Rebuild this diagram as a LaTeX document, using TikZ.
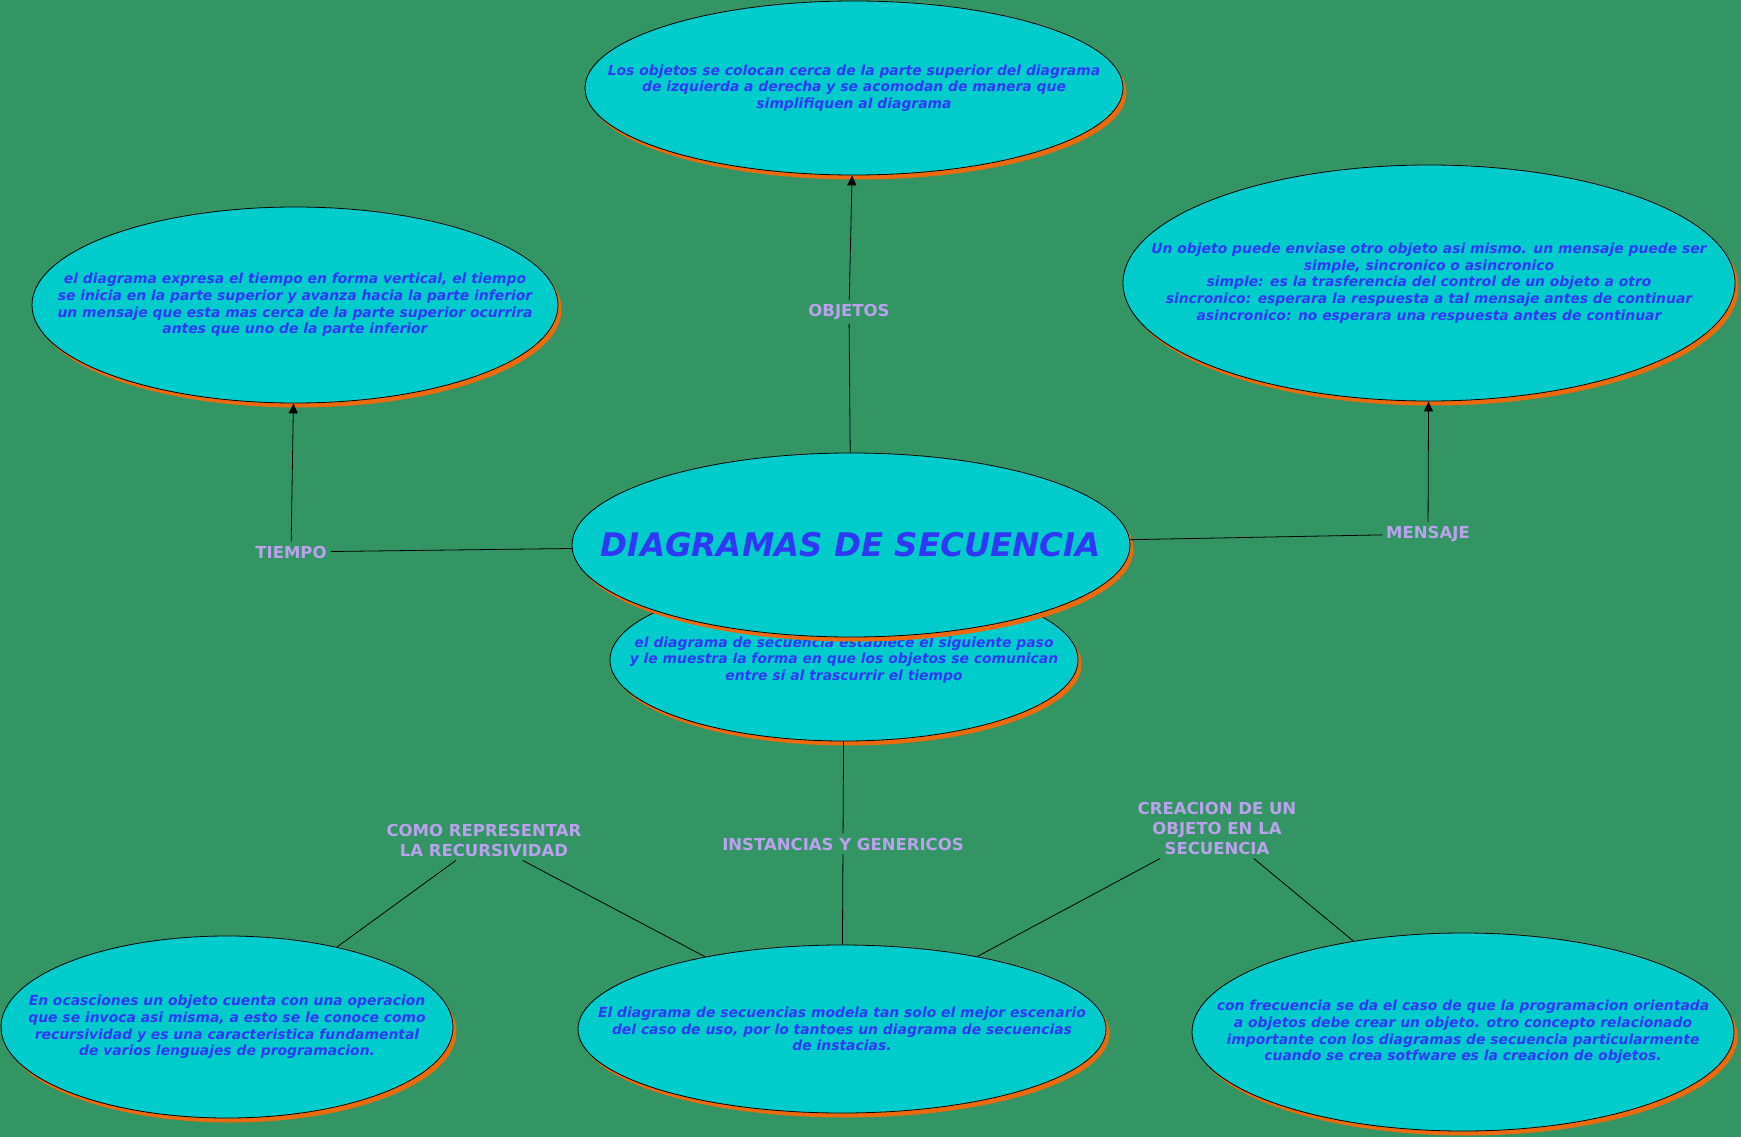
\documentclass[tikz,border=0pt]{standalone}
\usepackage{fontspec}
\setmainfont{DejaVu Sans}[BoldFont={DejaVu Sans Bold},ItalicFont={DejaVu Sans Oblique},BoldItalicFont={DejaVu Sans Bold Oblique}]
\usetikzlibrary{shapes.geometric,shadows,arrows.meta}

\definecolor{bggreen}{RGB}{51,149,99}
\definecolor{bubfill}{RGB}{0,204,204}
\definecolor{bubshadow}{RGB}{236,106,14}
\definecolor{textblue}{RGB}{48,56,245}
\definecolor{lblpurple}{RGB}{186,162,238}

\newcommand{\bodyfont}{\bfseries\itshape\fontsize{13.9}{16.7}\selectfont}
\newcommand{\titlefont}{\bfseries\itshape\fontsize{32.5}{39}\selectfont}
\newcommand{\lblfont}{\bfseries\fontsize{16.5}{20}\selectfont}

\tikzset{
  bubble/.style={ellipse, draw=black, line width=0.8pt, fill=bubfill,
    drop shadow={shadow xshift=3.5pt, shadow yshift=-4.5pt, fill=bubshadow, opacity=1}},
  bubtext/.style={text=textblue, align=center, font=\bodyfont, inner sep=0pt},
  lbl/.style={text=lblpurple, align=center, font=\lblfont, inner sep=4pt},
  link/.style={draw=black, line width=0.8pt},
  arrowlink/.style={link, -{Triangle[length=10pt,width=9pt]}}
}

\begin{document}
\begin{tikzpicture}[x=1pt, y=-1pt]
  \useasboundingbox (0,0) rectangle (1741,1137);
  \fill[bggreen] (0,0) rectangle (1741,1137);

  % upper bubbles
  \node[bubble, minimum width=538pt, minimum height=174pt] (obj) at (854,88) {};
  \node[bubtext] (obj-t) at (obj) {Los objetos se colocan cerca de la parte superior del diagrama\\ de izquierda a derecha y se acomodan de manera que\\ simplifiquen al diagrama};
  \node[bubble, minimum width=526pt, minimum height=196pt] (tiempo) at (295,305) {};
  \node[bubtext] (tiempo-t) at (tiempo) {el diagrama expresa el tiempo en forma vertical, el tiempo\\ se inicia en la parte superior y avanza hacia la parte inferior\\ un mensaje que esta mas cerca de la parte superior ocurrira\\ antes que uno de la parte inferior};
  \node[bubble, minimum width=612pt, minimum height=236pt] (mensaje) at (1429,283) {};
  \node[bubtext] (mensaje-t) at (mensaje) {Un objeto puede enviase otro objeto asi mismo. un mensaje puede ser\\ simple, sincronico o asincronico\\ simple: es la trasferencia del control de un objeto a otro\\ sincronico: esperara la respuesta a tal mensaje antes de continuar\\ asincronico: no esperara una respuesta antes de continuar};

  % central bubbles
  \node[bubble, minimum width=468pt, minimum height=162pt] (desc) at (844,660) {};
  \node[bubtext] (desc-t) at (desc) {el diagrama de secuencia establece el siguiente paso\\ y le muestra la forma en que los objetos se comunican\\ entre si al trascurrir el tiempo};
  \node[bubble, minimum width=558pt, minimum height=184pt] (diag) at (851,545) {};
  \node[bubtext, font=\titlefont] (diag-t) at (diag) {DIAGRAMAS DE SECUENCIA};

  % lower bubbles
  \node[bubble, minimum width=452pt, minimum height=182pt] (recur) at (227,1027) {};
  \node[bubtext] (recur-t) at (recur) {En ocasciones un objeto cuenta con una operacion\\ que se invoca asi misma, a esto se le conoce como\\ recursividad y es una caracteristica fundamental\\ de varios lenguajes de programacion.};
  \node[bubble, minimum width=528pt, minimum height=168pt] (inst) at (842,1029) {};
  \node[bubtext] (inst-t) at (inst) {El diagrama de secuencias modela tan solo el mejor escenario\\ del caso de uso, por lo tantoes un diagrama de secuencias\\ de instacias.};
  \node[bubble, minimum width=542pt, minimum height=198pt] (crea) at (1463,1032) {};
  \node[bubtext] (crea-t) at (crea) {con frecuencia se da el caso de que la programacion orientada\\ a objetos debe crear un objeto. otro concepto relacionado\\ importante con los diagramas de secuencia particularmente\\ cuando se crea sotfware es la creacion de objetos.};

  % link labels
  \node[lbl] (lobj) at (849,312) {OBJETOS};
  \node[lbl] (ltiempo) at (291,552) {TIEMPO};
  \node[lbl] (lmensaje) at (1428,534) {MENSAJE};
  \node[lbl] (lrecur) at (484,840) {COMO REPRESENTAR\\ LA RECURSIVIDAD};
  \node[lbl] (linst) at (843,844) {INSTANCIAS Y GENERICOS};
  \node[lbl] (lcrea) at (1217,828) {CREACION DE UN\\ OBJETO EN LA\\ SECUENCIA};

  % links
  \draw[link] (diag) -- (lobj);
  \draw[arrowlink] (lobj) -- (obj);
  \draw[link] (diag) -- (ltiempo);
  \draw[arrowlink] (ltiempo) -- (tiempo);
  \draw[link] (diag) -- (lmensaje);
  \draw[arrowlink] (lmensaje) -- (mensaje);
  \draw[link] (desc) -- (linst);
  \draw[link] (linst) -- (inst);
  \draw[link] (lrecur) -- (recur);
  \draw[link] (lrecur) -- (inst);
  \draw[link] (lcrea) -- (inst);
  \draw[link] (lcrea) -- (crea);
\end{tikzpicture}
\end{document}
